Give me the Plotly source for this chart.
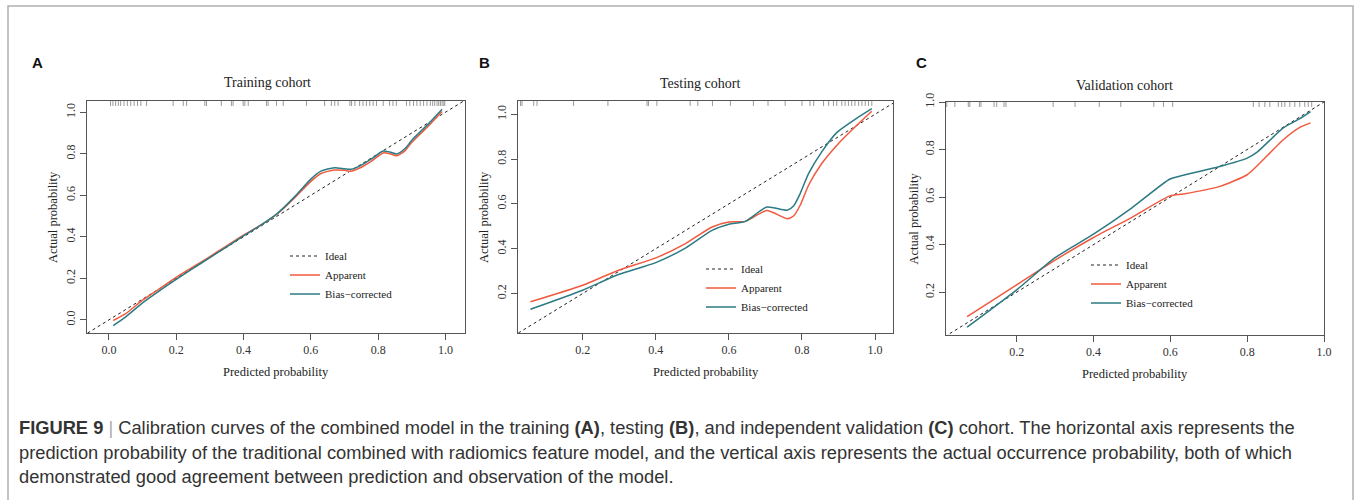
import plotly.graph_objects as go

W, H = 1356, 500

# ---------------- Data ----------------
ideal_xy = [-0.2, 1.2]  # y = x reference line

# Panel A: Training cohort
a_x = [0.013, 0.05, 0.10, 0.15, 0.20, 0.25, 0.30, 0.35, 0.40, 0.45, 0.50, 0.55, 0.60, 0.63,
       0.67, 0.70, 0.72, 0.75, 0.78, 0.815, 0.835, 0.855, 0.88, 0.90, 0.95, 0.99]
a_apparent = [-0.003, 0.030, 0.095, 0.150, 0.205, 0.255, 0.305, 0.357, 0.408, 0.455, 0.510, 0.585,
              0.667, 0.705, 0.722, 0.720, 0.716, 0.735, 0.765, 0.804, 0.800, 0.790, 0.815, 0.855,
              0.935, 1.003]
a_bias = [-0.027, 0.015, 0.082, 0.140, 0.195, 0.248, 0.300, 0.352, 0.405, 0.455, 0.512, 0.590,
          0.678, 0.716, 0.733, 0.728, 0.725, 0.745, 0.775, 0.813, 0.808, 0.799, 0.825, 0.865,
          0.945, 1.014]
a_rug = [0.005, 0.012, 0.020, 0.028, 0.035, 0.045, 0.055, 0.065, 0.075, 0.085, 0.095, 0.112,
         0.191, 0.221, 0.231, 0.285, 0.290, 0.334, 0.364, 0.369, 0.399, 0.404, 0.414, 0.468,
         0.473, 0.498, 0.518, 0.587, 0.641, 0.661, 0.671, 0.681, 0.716, 0.721, 0.731, 0.745,
         0.755, 0.765, 0.775, 0.785, 0.795, 0.815, 0.834, 0.844, 0.854, 0.884, 0.894, 0.905,
         0.915, 0.925, 0.935, 0.945, 0.955, 0.962, 0.968, 0.975, 0.980, 0.985, 0.990, 0.995, 0.998]

# Panel B: Testing cohort
b_x = [0.057, 0.20, 0.298, 0.40, 0.481, 0.554, 0.60, 0.645, 0.704, 0.759, 0.777, 0.795, 0.818,
       0.854, 0.895, 0.945, 0.991]
b_apparent = [0.163, 0.237, 0.304, 0.359, 0.423, 0.497, 0.519, 0.522, 0.570, 0.534, 0.546, 0.594,
              0.683, 0.780, 0.861, 0.943, 1.013]
b_bias = [0.130, 0.215, 0.285, 0.338, 0.403, 0.482, 0.509, 0.522, 0.586, 0.572, 0.591, 0.646,
          0.735, 0.832, 0.918, 0.977, 1.025]
b_rug = [0.030, 0.034, 0.066, 0.075, 0.175, 0.269, 0.376, 0.380, 0.403, 0.494, 0.515, 0.555,
         0.604, 0.667, 0.707, 0.754, 0.800, 0.822, 0.832, 0.859, 0.873, 0.886, 0.895, 0.909,
         0.918, 0.927, 0.936, 0.945, 0.955, 0.964, 0.973, 0.982, 0.991]

# Panel C: Validation cohort
c_x = [0.071, 0.20, 0.30, 0.40, 0.50, 0.599, 0.634, 0.729, 0.80, 0.825, 0.894, 0.937, 0.965]
c_apparent = [0.097, 0.231, 0.335, 0.430, 0.515, 0.605, 0.613, 0.645, 0.694, 0.730, 0.841, 0.893, 0.912]
c_bias = [0.053, 0.210, 0.345, 0.444, 0.555, 0.676, 0.692, 0.729, 0.764, 0.788, 0.891, 0.930, 0.960]
c_rug = [0.018, 0.039, 0.074, 0.078, 0.103, 0.107, 0.141, 0.148, 0.167, 0.172, 0.295, 0.352,
         0.415, 0.471, 0.557, 0.582, 0.606, 0.816, 0.831, 0.846, 0.859, 0.881, 0.890, 0.898,
         0.911, 0.924, 0.937, 0.950, 0.959, 0.968]

titles = ["Training cohort", "Testing cohort", "Validation cohort"]
letters = ["A", "B", "C"]
legend_names = ["Ideal", "Apparent", "Bias\u2212corrected"]

# ---------------- Styles ----------------
RED = "#F15A3E"
TEAL = "#2C7A83"
SERIF = "Liberation Serif, Times New Roman, serif"
SANS = "Liberation Sans, Arial, sans-serif"
AX_COL = "#555555"

panels = [
    dict(x=a_x, app=a_apparent, bias=a_bias, rug=a_rug,
         box=(87, 465, 101, 333), xr=[-0.065, 1.058], yr=[-0.063, 1.054],
         ticks=[0.0, 0.2, 0.4, 0.6, 0.8, 1.0],
         title_xy=(267, 82), letter_xy=(37, 62), xt_y=372, yt_x=53,
         leg_text=(327, 275)),
    dict(x=b_x, app=b_apparent, bias=b_bias, rug=b_rug,
         box=(518, 893, 101, 333), xr=[0.023, 1.049], yr=[0.024, 1.059],
         ticks=[0.2, 0.4, 0.6, 0.8, 1.0],
         title_xy=(700, 83), letter_xy=(484, 62), xt_y=372, yt_x=484,
         leg_text=(743, 288)),
    dict(x=c_x, app=c_apparent, bias=c_bias, rug=c_rug,
         box=(946, 1324, 102, 335), xr=[0.016, 1.0], yr=[0.02, 1.0],
         ticks=[0.2, 0.4, 0.6, 0.8, 1.0],
         title_xy=(1124, 86), letter_xy=(921, 62), xt_y=374, yt_x=913,
         leg_text=(1128, 284)),
]

fig = go.Figure()
annotations = []
shapes = []

for i, p in enumerate(panels):
    n = "" if i == 0 else str(i + 1)
    xa, ya = "x" + n, "y" + n
    leg = "legend" + n
    x0, x1, y0, y1 = p["box"]

    fig.add_trace(go.Scatter(x=ideal_xy, y=ideal_xy, mode="lines", name=legend_names[0],
                             line=dict(color="#222222", width=1, dash="3px,3px"),
                             xaxis=xa, yaxis=ya, legend=leg, hoverinfo="skip"))
    fig.add_trace(go.Scatter(x=p["x"], y=p["app"], mode="lines", name=legend_names[1],
                             line=dict(color=RED, width=1.5, shape="spline", smoothing=0.6),
                             xaxis=xa, yaxis=ya, legend=leg))
    fig.add_trace(go.Scatter(x=p["x"], y=p["bias"], mode="lines", name=legend_names[2],
                             line=dict(color=TEAL, width=1.5, shape="spline", smoothing=0.6),
                             xaxis=xa, yaxis=ya, legend=leg))

    axis_common = dict(showline=True, mirror=True, linecolor=AX_COL, linewidth=1,
                       ticks="outside", ticklen=6, tickcolor=AX_COL, tickwidth=1,
                       showgrid=False, zeroline=False, tickvals=p["ticks"], automargin=False,
                       tickformat=".1f", tickfont=dict(family=SERIF, size=12, color="#333333"))
    fig.update_layout({
        "xaxis" + n: dict(axis_common, domain=[x0 / W, x1 / W], range=p["xr"], anchor=ya),
        "yaxis" + n: dict(axis_common, domain=[1 - y1 / H, 1 - y0 / H], range=p["yr"],
                          anchor=xa, tickangle=-90),
    })

    # legend
    lx, ly = p["leg_text"]
    fig.update_layout({leg: dict(x=(lx - 42) / W, y=1 - ly / H, xanchor="left", yanchor="middle",
                                 bgcolor="rgba(0,0,0,0)", borderwidth=0,
                                 font=dict(family=SERIF, size=11, color="#222222"),
                                 itemwidth=30, tracegroupgap=0)})

    # rug marks along the top
    for v in p["rug"]:
        shapes.append(dict(type="line", xref=xa, yref=ya + " domain", x0=v, x1=v,
                           y0=1, y1=1 - 5 / (y1 - y0),
                           line=dict(color="#9a9a9a", width=1)))

    tx, ty = p["title_xy"]
    annotations.append(dict(text=titles[i], x=tx / W, y=1 - ty / H, xref="paper", yref="paper",
                            showarrow=False, xanchor="center", yanchor="middle",
                            font=dict(family=SERIF, size=14, color="#222222")))
    lx2, ly2 = p["letter_xy"]
    annotations.append(dict(text="<b>" + letters[i] + "</b>", x=lx2 / W, y=1 - ly2 / H,
                            xref="paper", yref="paper", showarrow=False,
                            xanchor="center", yanchor="middle",
                            font=dict(family=SANS, size=15, color="#111111")))
    annotations.append(dict(text="Predicted probability", x=((x0 + x1) / 2) / W,
                            y=1 - p["xt_y"] / H, xref="paper", yref="paper", showarrow=False,
                            xanchor="center", yanchor="middle",
                            font=dict(family=SERIF, size=12.5, color="#222222")))
    annotations.append(dict(text="Actual probability", x=p["yt_x"] / W,
                            y=1 - ((y0 + y1) / 2) / H, xref="paper", yref="paper",
                            showarrow=False, textangle=-90, xanchor="center", yanchor="middle",
                            font=dict(family=SERIF, size=12.5, color="#222222")))

# caption
caption_lines = [
    "<b>FIGURE 9</b> <span style='color:#aaaaaa'>|</span> Calibration curves of the combined model in the training "
    "<b>(A)</b>, testing <b>(B)</b>, and independent validation <b>(C)</b> cohort. The horizontal axis represents the",
    "prediction probability of the traditional combined with radiomics feature model, and the vertical axis "
    "represents the actual occurrence probability, both of which",
    "demonstrated good agreement between prediction and observation of the model.",
]
for k, (line, yy) in enumerate(zip(caption_lines, [427, 452, 476])):
    annotations.append(dict(text=line, x=17 / W, y=1 - yy / H, xref="paper", yref="paper",
                            showarrow=False, xanchor="left", yanchor="middle",
                            font=dict(family=SANS, size=18.3, color="#333333")))

# outer frame
shapes.append(dict(type="rect", xref="paper", yref="paper", x0=8 / W, x1=1353 / W,
                   y0=-0.05, y1=1 - 6 / H, line=dict(color="#b0b0b0", width=1.5)))

fig.update_layout(width=W, height=H,
                  margin=dict(l=0, r=0, t=0, b=0, pad=0, autoexpand=False),
                  paper_bgcolor="white", plot_bgcolor="white",
                  annotations=annotations, shapes=shapes, showlegend=True)

fig.write_html(
    "out.html",
    config={"displayModeBar": False},
    post_script=(
        "document.documentElement.style.margin='0';"
        "document.body.style.margin='0';document.body.style.padding='0';"
        "document.body.style.overflow='hidden';"
        "var gd=document.getElementById('{plot_id}');"
        "gd.style.position='absolute';gd.style.top='0px';gd.style.left='0px';"
    ),
)
